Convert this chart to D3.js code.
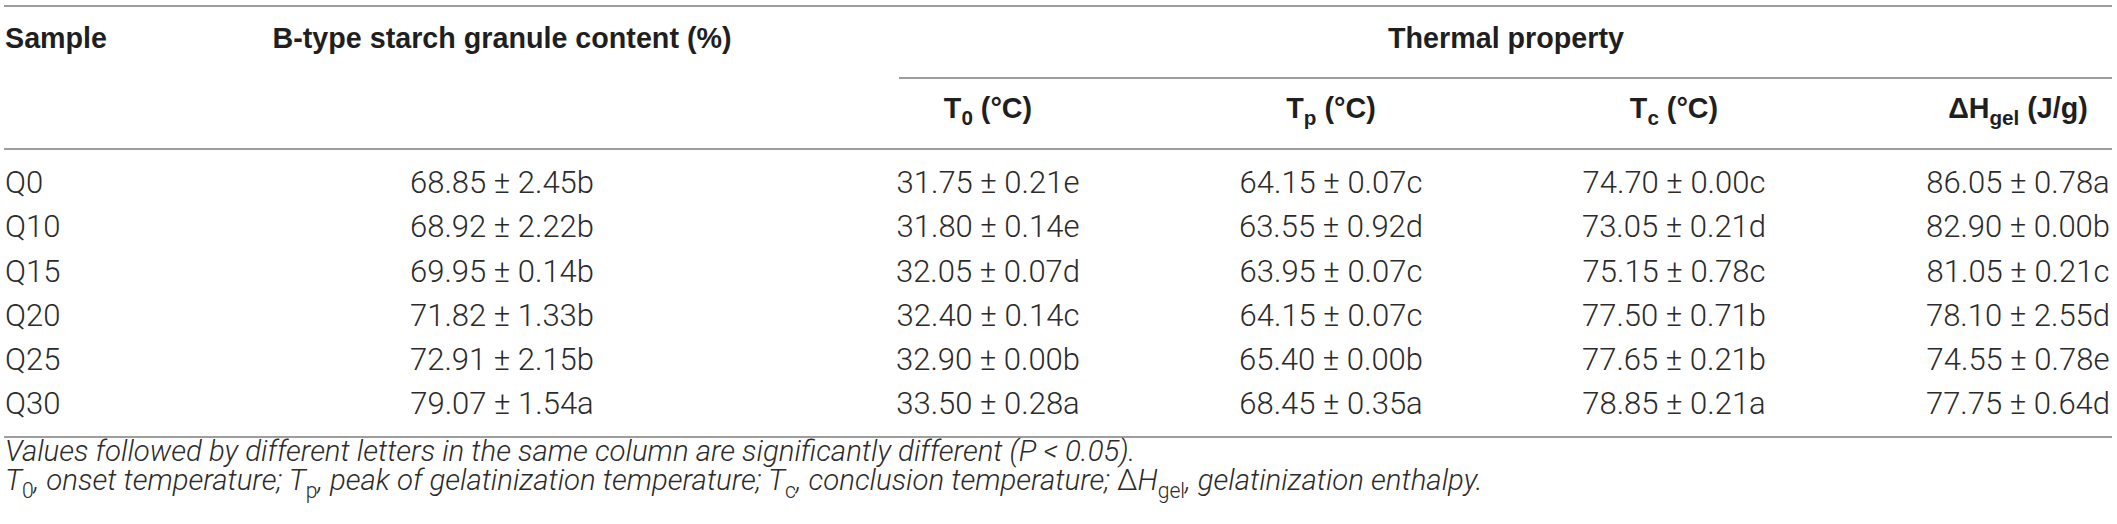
<!DOCTYPE html>
<html>
<head>
<meta charset="utf-8">
<script src="https://cdn.jsdelivr.net/npm/d3@7"></script>
<style>
  html, body { margin: 0; padding: 0; background: #fff; }
  svg { display: block; }
</style>
</head>
<body>
<svg id="chart" width="2117" height="524"></svg>
<script>
// ---------------- DATA ----------------
const samples = ["Q0", "Q10", "Q15", "Q20", "Q25", "Q30"];

const bTypeMean   = [68.85, 68.92, 69.95, 71.82, 72.91, 79.07];
const bTypeSD     = [2.45, 2.22, 0.14, 1.33, 2.15, 1.54];
const bTypeLetter = ["b", "b", "b", "b", "b", "a"];

const t0Mean   = [31.75, 31.80, 32.05, 32.40, 32.90, 33.50];
const t0SD     = [0.21, 0.14, 0.07, 0.14, 0.00, 0.28];
const t0Letter = ["e", "e", "d", "c", "b", "a"];

const tpMean   = [64.15, 63.55, 63.95, 64.15, 65.40, 68.45];
const tpSD     = [0.07, 0.92, 0.07, 0.07, 0.00, 0.35];
const tpLetter = ["c", "d", "c", "c", "b", "a"];

const tcMean   = [74.70, 73.05, 75.15, 77.50, 77.65, 78.85];
const tcSD     = [0.00, 0.21, 0.78, 0.71, 0.21, 0.21];
const tcLetter = ["c", "d", "c", "b", "b", "a"];

const dhMean   = [86.05, 82.90, 81.05, 78.10, 74.55, 77.75];
const dhSD     = [0.78, 0.00, 0.21, 2.55, 0.78, 0.64];
const dhLetter = ["a", "b", "c", "d", "e", "d"];

const columnKeys = ["btype", "t0", "tp", "tc", "dh"];
const columnHeaders = [
  [{t: "B-type starch granule content (%)"}],
  [{t: "T"}, {t: "0", sub: true}, {t: " (°C)"}],
  [{t: "T"}, {t: "p", sub: true}, {t: " (°C)"}],
  [{t: "T"}, {t: "c", sub: true}, {t: " (°C)"}],
  [{t: "ΔH"}, {t: "gel", sub: true}, {t: " (J/g)"}]
];
const groupHeader = "Thermal property";
const firstHeader = "Sample";
const footnote1 = [
  {t: "Values followed by different letters in the same column are significantly different ("},
  {t: "P"}, {t: " < 0.05)."}
];
const footnote2 = [
  {t: "T"}, {t: "0", sub: true, up: true}, {t: ", onset temperature; "},
  {t: "T"}, {t: "p", sub: true, up: true}, {t: ", peak of gelatinization temperature; "},
  {t: "T"}, {t: "c", sub: true, up: true}, {t: ", conclusion temperature; "},
  {t: "Δ", up: true}, {t: "H"}, {t: "gel", sub: true, up: true}, {t: ", gelatinization enthalpy."}
];

const tableColumns = [
  {mean: bTypeMean, sd: bTypeSD, letter: bTypeLetter},
  {mean: t0Mean, sd: t0SD, letter: t0Letter},
  {mean: tpMean, sd: tpSD, letter: tpLetter},
  {mean: tcMean, sd: tcSD, letter: tcLetter},
  {mean: dhMean, sd: dhSD, letter: dhLetter}
];

// ---------------- LAYOUT ----------------
const leftX = 4, rightX = 2112;
const bodyFont = "Roboto, 'Helvetica Neue', 'Liberation Sans', Arial, sans-serif";
const headFont = "'Liberation Sans', Arial, Helvetica, sans-serif";
const ruleColor = "#9e9e9e";
const headColor = "#1f1f1f";
const bodyColor = "#2b2b2b";

const svg = d3.select("#chart");

// font calibration: fit sample strings to widths measured on the reference
function fitSize(str, family, weight, style, target) {
  const t = svg.append("text").attr("font-family", family).attr("font-weight", weight)
    .attr("font-style", style).attr("font-size", 100).text(str);
  const w = t.node().getComputedTextLength();
  t.remove();
  return 100 * target / w;
}
const bodySize = fitSize("31.75 ± 0.21e", bodyFont, 300, "normal", 183);
const headSize = fitSize("Thermal property", headFont, 700, "normal", 236);

const x = d3.scaleOrdinal().domain(columnKeys).range([502, 988, 1331, 1674, 2018]);
const y = d3.scalePoint().domain(samples).range([182, 403]);
const thermalX = d3.scaleLinear().domain([0, 1]).range([899, rightX]);

// rules
const rules = [
  {y: 6, x0: leftX, x1: rightX},
  {y: 78, x0: thermalX(0), x1: thermalX(1)},
  {y: 149, x0: leftX, x1: rightX},
  {y: 437, x0: leftX, x1: rightX}
];
svg.append("g").selectAll("line").data(rules).join("line")
  .attr("x1", d => d.x0).attr("x2", d => d.x1)
  .attr("y1", d => d.y).attr("y2", d => d.y)
  .attr("stroke", ruleColor).attr("stroke-width", 2.2);

function rich(textSel, parts, size, italicBase) {
  const subSize = size * 0.72;
  const shift = size * 0.26;
  let lowered = false;
  parts.forEach(p => {
    const ts = textSel.append("tspan").text(p.t);
    if (p.sub) {
      ts.attr("font-size", subSize).attr("dy", lowered ? 0 : shift);
      lowered = true;
    } else {
      ts.attr("font-size", size).attr("dy", lowered ? -shift : 0);
      lowered = false;
    }
    if (italicBase) ts.attr("font-style", p.up ? "normal" : "italic");
  });
}

// header row 1
const hdr = svg.append("g").attr("font-family", headFont).attr("font-weight", 700)
  .attr("fill", headColor).attr("font-size", headSize);
hdr.append("text").attr("x", leftX + 1).attr("y", 38).attr("dy", "0.36em").text(firstHeader);
hdr.append("text").attr("x", x("btype")).attr("y", 38).attr("dy", "0.36em")
  .attr("text-anchor", "middle").text(columnHeaders[0][0].t);
hdr.append("text").attr("x", (1388 + 1624) / 2).attr("y", 38).attr("dy", "0.36em")
  .attr("text-anchor", "middle").text(groupHeader);

// header row 2
columnKeys.slice(1).forEach((k, i) => {
  const t = hdr.append("text").attr("x", x(k)).attr("y", 118).attr("dy", "0.36em")
    .attr("text-anchor", "middle");
  rich(t, columnHeaders[i + 1], headSize, false);
});

// body
const body = svg.append("g").attr("font-family", bodyFont).attr("font-weight", 300)
  .attr("fill", bodyColor).attr("font-size", bodySize);
body.selectAll("text.sample").data(samples).join("text").attr("class", "sample")
  .attr("x", leftX + 1).attr("y", d => y(d)).attr("dy", "0.36em").text(d => d);

tableColumns.forEach((col, ci) => {
  body.selectAll("text.c" + ci).data(samples).join("text").attr("class", "c" + ci)
    .attr("x", x(columnKeys[ci])).attr("y", d => y(d)).attr("dy", "0.36em")
    .attr("text-anchor", "middle")
    .text((d, i) => col.mean[i].toFixed(2) + " ± " + col.sd[i].toFixed(2) + col.letter[i]);
});

// footnotes
const footSize = fitSize(footnote1.map(p => p.t).join(""), bodyFont, 300, "italic", 1131);
const foot = svg.append("g").attr("font-family", bodyFont).attr("font-weight", 300)
  .attr("fill", bodyColor);
const f1 = foot.append("text").attr("x", leftX + 1).attr("y", 461).attr("dy", "0.36em");
rich(f1, footnote1, footSize, true);
const f2 = foot.append("text").attr("x", leftX + 1).attr("y", 490).attr("dy", "0.36em");
rich(f2, footnote2, footSize, true);
</script>
</body>
</html>
